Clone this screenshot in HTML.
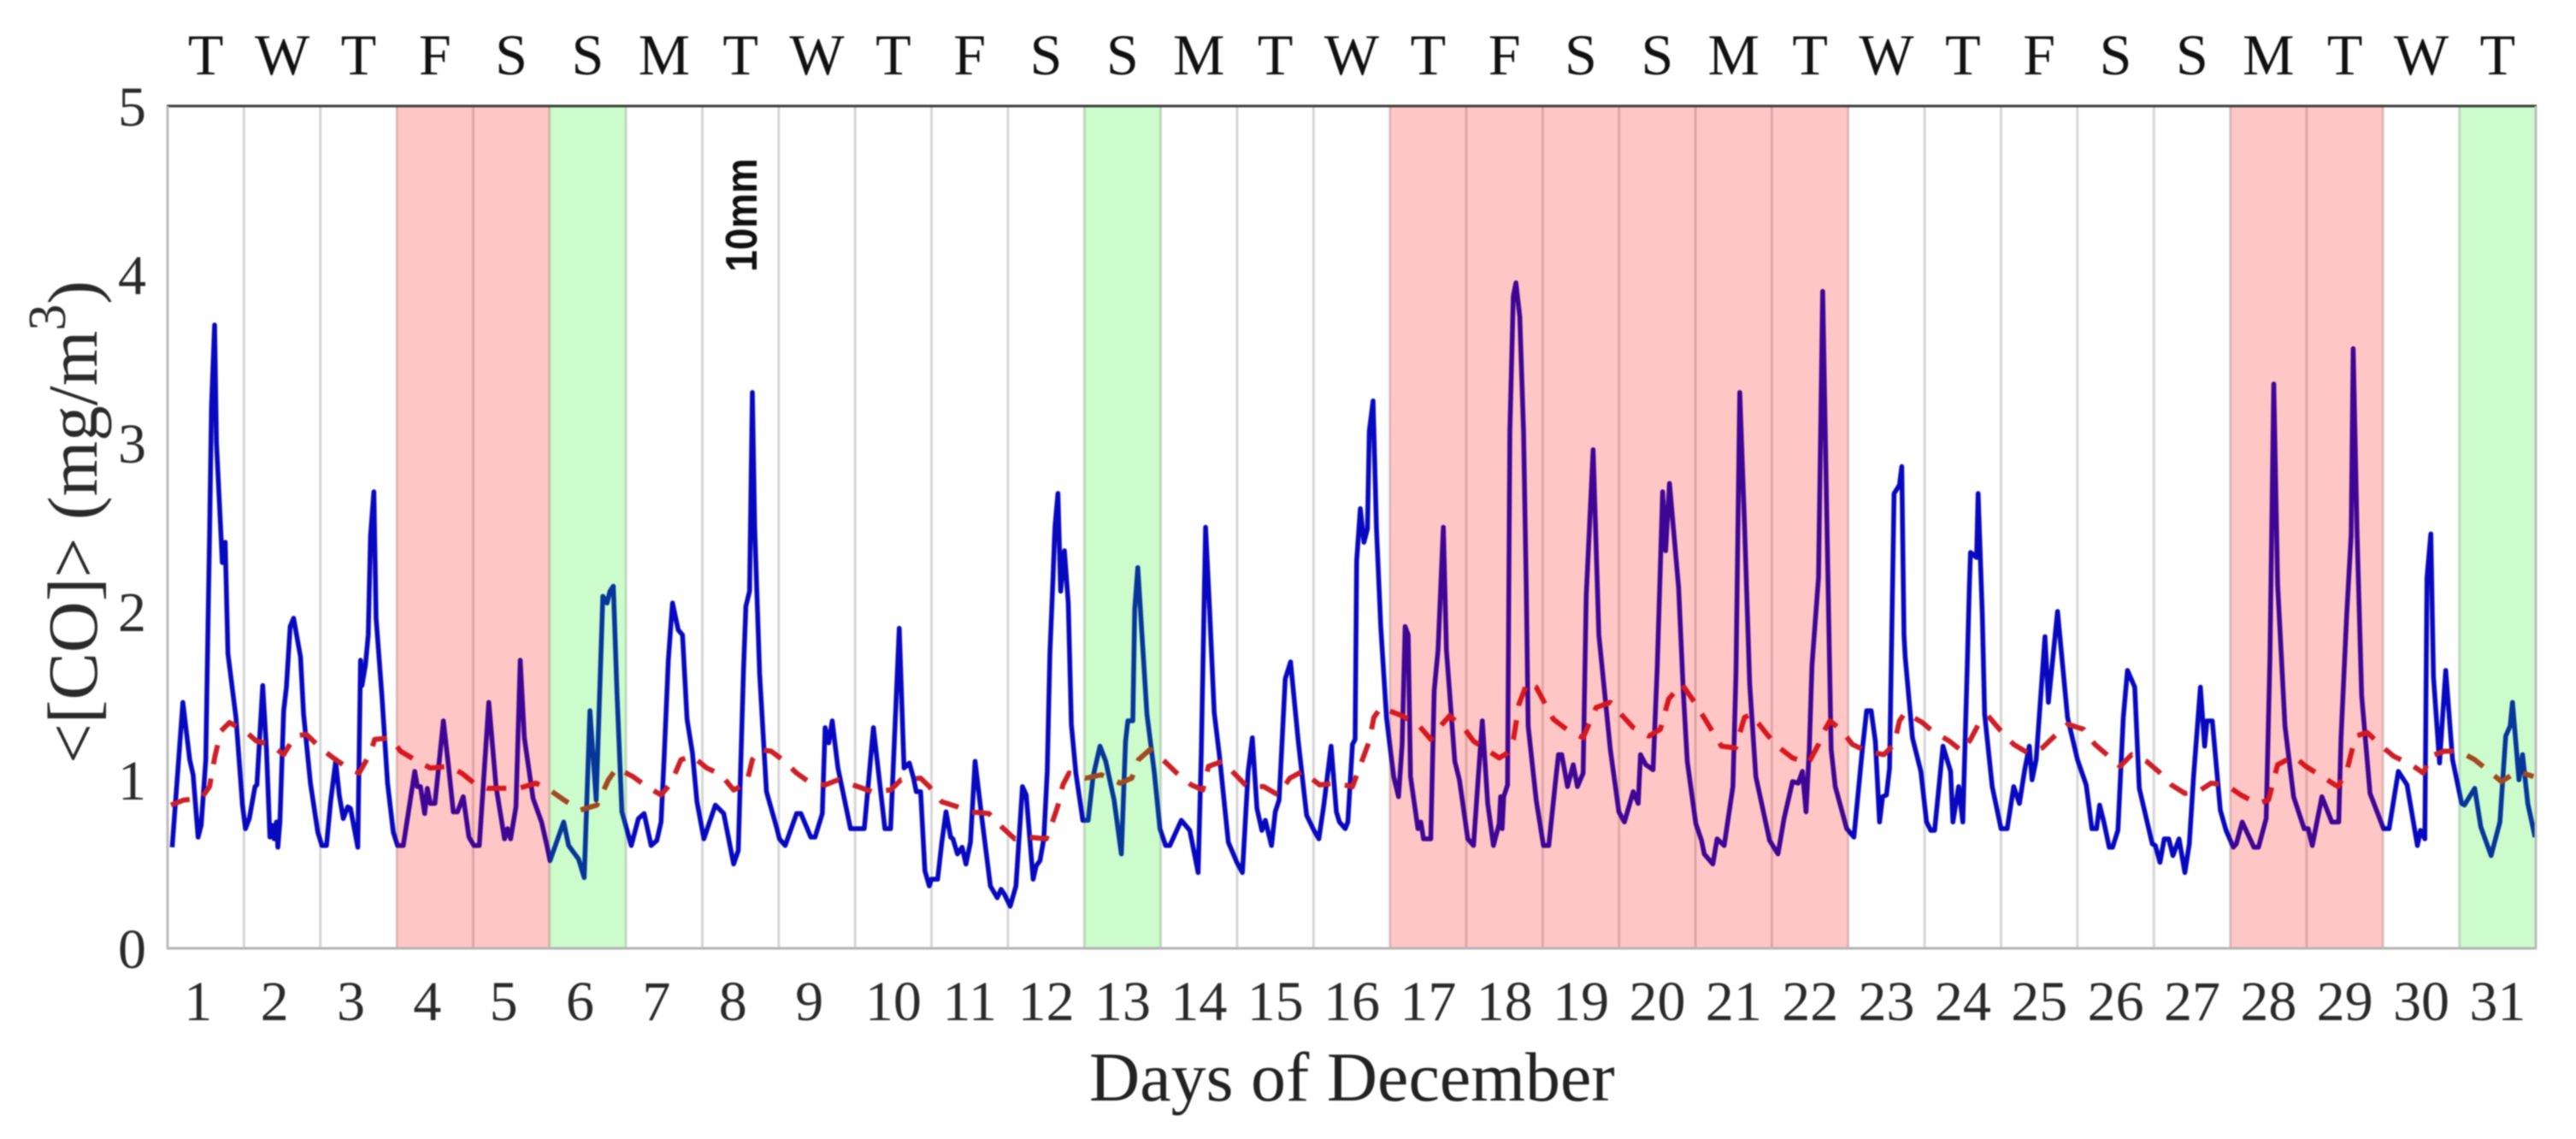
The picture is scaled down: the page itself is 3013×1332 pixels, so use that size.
<!DOCTYPE html>
<html lang="en">
<head>
<meta charset="utf-8">
<title>CO concentration, December</title>
<style>
html,body{margin:0;padding:0;background:#fff;}
svg{display:block;filter:blur(0.7px);}
text{font-family:"Liberation Serif",serif;}
</style>
</head>
<body>
<svg id="chart" xmlns="http://www.w3.org/2000/svg" width="3013" height="1332" viewBox="0 0 3013 1332">
  <rect x="0" y="0" width="3013" height="1332" fill="#ffffff"/>
  <g id="grid"></g>
  <g id="series"></g>
  <g id="bands"></g>
  <g id="axes"></g>
  <g id="weekdays"></g>
  <g id="xticks"></g>
  <g id="yticks"></g>
  <text x="1274" y="1287" font-size="82" fill="#222">Days of December</text>
  <text transform="translate(113,893) rotate(-90)" font-size="83" fill="#2a2a2a">&lt;[CO]&gt; (mg/m<tspan font-size="62" dy="-37">3</tspan><tspan dy="37">)</tspan></text>
  <text transform="translate(885,318) rotate(-90) scale(1,1.12)" font-size="46" font-weight="bold" fill="#111" style="font-family:'Liberation Sans',sans-serif">10mm</text>
</svg>
<script>
const weekdayLabels = ["T","W","T","F","S","S","M","T","W","T","F","S","S","M","T","W","T","F","S","S","M","T","W","T","F","S","S","M","T","W","T"];
const dayLabels = ["1","2","3","4","5","6","7","8","9","10","11","12","13","14","15","16","17","18","19","20","21","22","23","24","25","26","27","28","29","30","31"];
const yTickLabels = ["0","1","2","3","4","5"];
const yTickValues = [0,1,2,3,4,5];
const pinkBandDays = [4,5,17,18,19,20,21,22,28,29];
const greenBandDays = [6,13,31];

const coDays = [
0.06,0.09,0.2,0.29,0.335,0.4,0.44,0.5,0.52,0.55,0.575,0.616,0.64,0.7,0.716,0.754,0.79,0.895,0.98,
1.02,1.07,1.145,1.17,1.246,1.295,1.34,1.37,1.395,1.425,1.444,1.47,1.52,1.556,1.605,1.65,1.74,1.78,1.87,1.966,
2.02,2.08,2.134,2.2,2.247,2.3,2.358,2.395,2.49,2.526,2.545,2.59,2.627,2.657,2.7,2.73,2.806,2.88,2.955,
3.01,3.086,3.235,3.27,3.31,3.365,3.4,3.44,3.5,3.61,3.675,3.74,3.795,3.87,3.945,
4.01,4.08,4.205,4.3,4.41,4.45,4.49,4.56,4.616,4.67,4.784,4.895,4.97,
5.006,5.185,5.25,5.38,5.454,5.529,5.61,5.697,5.753,5.79,5.835,5.883,5.947,5.984,
6.07,6.163,6.238,6.33,6.405,6.46,6.5,6.555,6.61,6.685,6.74,6.8,6.87,6.93,
7.02,7.17,7.28,7.41,7.47,7.54,7.57,7.618,7.655,7.685,7.75,7.84,7.97,
8.01,8.085,8.234,8.29,8.42,8.475,8.57,8.607,8.655,8.7,8.775,8.94,
9.12,9.24,9.39,9.465,9.577,9.64,9.71,9.764,9.8,9.857,9.913,9.97,
10.0,10.08,10.135,10.19,10.25,10.28,10.34,10.4,10.45,10.51,10.57,10.66,10.77,10.86,10.91,10.955,
11.03,11.105,11.19,11.24,11.33,11.37,11.42,11.47,11.515,11.55,11.59,11.615,11.655,11.69,11.74,11.79,11.83,11.89,11.98,
12.05,12.115,12.205,12.28,12.39,12.485,12.54,12.57,12.635,12.66,12.7,12.765,12.82,12.915,12.99,
13.065,13.12,13.27,13.38,13.49,13.53,13.587,13.64,13.7,13.77,13.885,13.997,
14.07,14.145,14.2,14.26,14.325,14.37,14.45,14.5,14.55,14.63,14.7,14.8,14.91,
15.005,15.07,15.135,15.23,15.3,15.34,15.415,15.45,15.51,15.545,15.565,15.613,15.66,15.706,15.73,15.78,15.825,15.88,15.955,
16.05,16.113,16.16,16.2,16.24,16.27,16.367,16.405,16.44,16.535,16.58,16.63,16.7,16.74,16.85,16.91,
17.02,17.095,17.15,17.21,17.28,17.355,17.43,17.45,17.47,17.49,17.54,17.57,17.615,17.65,17.7,17.75,17.785,17.81,17.915,
18.01,18.08,18.175,18.207,18.25,18.325,18.4,18.455,18.53,18.57,18.66,18.735,18.885,18.997,
19.07,19.185,19.25,19.28,19.35,19.445,19.5,19.57,19.61,19.66,19.78,19.84,19.893,
20.005,20.08,20.115,20.227,20.283,20.376,20.49,20.53,20.58,20.64,20.71,20.79,20.97,
21.08,21.16,21.27,21.345,21.4,21.447,21.49,21.525,21.61,21.665,21.72,21.776,21.83,21.98,
22.074,22.185,22.24,22.3,22.355,22.41,22.45,22.5,22.54,22.6,22.67,22.7,22.73,22.745,22.84,22.95,
23.025,23.08,23.13,23.24,23.34,23.37,23.445,23.5,23.556,23.585,23.6,23.68,23.7,23.755,23.785,23.885,
24.0,24.08,24.165,24.24,24.31,24.37,24.406,24.46,24.575,24.62,24.74,24.87,
25.0,25.115,25.19,25.25,25.29,25.346,25.415,25.46,25.53,25.6,25.655,25.75,25.81,25.98,
26.02,26.08,26.136,26.194,26.25,26.33,26.406,26.464,26.52,26.61,26.665,26.695,26.765,26.87,26.945,
27.04,27.08,27.157,27.31,27.37,27.47,27.52,27.57,27.62,27.716,27.83,27.967,
28.02,28.075,28.2,28.33,28.42,28.45,28.525,28.583,28.61,28.66,28.72,28.83,
29.007,29.08,29.2,29.315,29.45,29.49,29.547,29.575,29.626,29.66,29.74,29.82,29.91,
30.03,30.065,30.2,30.28,30.415,30.53,30.606,30.664,30.695,30.78,30.826,30.895,30.99
];
const coValues = [
0.6,0.78,1.46,1.12,1.03,0.66,0.73,1.12,1.68,2.45,3.22,3.7,3.0,2.45,2.29,2.41,1.75,1.37,0.85,
0.71,0.77,0.96,0.97,1.56,1.18,0.66,0.73,0.65,0.75,0.6,0.75,1.41,1.55,1.91,1.96,1.73,1.39,0.98,0.69,
0.61,0.61,0.87,1.11,0.91,0.77,0.84,0.83,0.6,1.71,1.56,1.68,1.86,2.45,2.71,1.96,1.5,0.98,0.69,
0.61,0.61,1.05,0.96,0.96,0.8,0.95,0.86,0.86,1.35,1.09,0.81,0.81,0.9,0.66,
0.61,0.61,1.46,0.96,0.65,0.71,0.65,0.84,1.71,1.25,0.89,0.75,0.6,
0.52,0.75,0.61,0.53,0.42,1.41,0.88,2.09,2.05,2.12,2.15,1.51,0.81,0.75,
0.61,0.77,0.8,0.61,0.64,0.75,1.13,1.71,2.05,1.89,1.86,1.36,1.16,0.87,
0.65,0.85,0.8,0.5,0.58,1.66,2.03,2.12,3.3,2.5,1.63,0.93,0.72,
0.65,0.61,0.8,0.8,0.66,0.66,0.8,1.31,1.22,1.35,1.07,0.71,
0.71,1.31,0.71,0.71,1.9,1.07,1.1,1.01,0.93,0.93,0.46,0.37,
0.41,0.41,0.63,0.81,0.66,0.65,0.56,0.6,0.5,0.63,1.11,0.77,0.37,0.3,0.35,0.32,
0.25,0.37,0.96,0.91,0.41,0.49,0.52,0.65,1.05,1.75,2.19,2.5,2.7,2.12,2.36,2.05,1.33,1.04,0.76,
0.76,1.02,1.2,1.11,0.88,0.56,1.23,1.35,1.35,2.01,2.26,1.79,1.39,1.05,0.71,
0.61,0.61,0.76,0.7,0.45,1.14,2.5,2.01,1.4,1.14,0.63,0.51,
0.45,1.05,1.25,0.83,0.7,0.76,0.61,0.81,0.88,1.6,1.7,1.23,0.79,
0.7,0.65,0.85,1.2,0.81,0.75,0.71,0.75,1.21,1.24,2.3,2.61,2.41,2.49,3.07,3.25,2.49,1.91,1.37,
1.02,0.9,1.21,1.91,1.86,1.02,0.71,0.75,0.65,0.65,1.53,1.77,2.5,1.77,1.11,1.0,
0.65,0.61,0.97,1.35,0.86,0.61,0.74,0.9,0.71,0.9,0.97,3.07,3.87,3.95,3.75,3.07,2.14,1.32,0.88,
0.61,0.61,1.02,1.15,1.15,0.96,1.09,0.96,1.04,2.09,2.96,1.86,1.18,0.81,
0.75,0.93,0.86,1.15,1.09,1.06,1.67,2.71,2.36,2.76,2.14,1.53,1.11,
0.74,0.64,0.56,0.5,0.65,0.61,0.96,1.64,3.3,2.54,1.57,1.02,0.64,
0.56,0.77,0.99,0.98,1.05,0.81,1.18,1.68,2.2,3.9,2.54,1.18,0.96,0.71,
0.66,1.18,1.41,1.41,1.23,0.75,0.9,0.91,1.07,2.7,2.75,2.86,1.86,1.73,1.25,1.05,
0.75,0.7,0.7,1.2,1.05,0.75,0.96,0.75,1.64,2.14,2.35,2.32,2.7,1.98,1.39,0.96,
0.71,0.71,0.96,0.86,1.06,1.2,1.0,1.12,1.85,1.46,2.0,1.37,
1.12,0.97,0.71,0.71,0.85,0.75,0.6,0.6,0.7,1.37,1.65,1.55,0.95,0.62,
0.61,0.51,0.65,0.65,0.55,0.65,0.45,0.62,1.02,1.55,1.2,1.35,1.35,0.82,0.7,
0.6,0.62,0.75,0.6,0.6,0.77,1.72,3.35,2.16,1.32,0.9,0.71,
0.71,0.61,0.9,0.75,0.75,1.24,1.98,2.45,3.56,2.47,1.5,0.92,
0.71,0.71,1.05,0.97,0.61,0.7,0.65,2.2,2.46,1.61,1.1,1.65,1.12,
0.86,0.85,0.95,0.72,0.55,0.75,1.26,1.32,1.46,1.0,1.15,0.86,0.66
];

const avgDays = [
0.045,0.21,0.44,0.55,0.62,0.7,0.81,1.015,1.164,1.35,1.52,1.668,1.817,2.0,2.17,2.36,2.507,2.657,2.71,2.918,
3.05,3.235,3.44,3.68,3.85,4.04,4.187,4.45,4.6,4.82,4.97,5.19,5.398,5.62,5.77,5.88,6.09,6.275,6.46,6.59,6.72,6.87,
7.06,7.245,7.41,7.58,7.655,7.75,7.9,8.05,8.234,8.42,8.607,8.775,9.036,9.22,9.465,9.6,9.857,9.97,
10.135,10.34,10.51,10.75,10.92,11.09,11.27,11.5,11.59,11.65,11.72,11.8,12.02,12.225,12.47,12.62,12.71,12.86,
13.05,13.21,13.4,13.55,13.625,13.81,13.98,14.13,14.35,14.54,14.69,14.855,15.08,15.285,15.51,15.73,15.79,15.88,
16.16,16.385,16.535,16.645,16.78,16.965,17.095,17.43,17.54,17.617,17.69,17.8,17.915,18.14,18.344,18.53,18.7,18.885,
19.185,19.39,19.54,19.65,19.82,20.005,20.34,20.525,20.64,20.73,20.955,21.1,21.27,21.48,21.61,21.645,21.76,21.9,
22.055,22.24,22.466,22.6,22.67,22.745,22.97,23.1,23.325,23.49,23.6,23.717,23.83,23.98,24.165,24.35,24.54,24.7,24.875,
25.08,25.23,25.385,25.558,25.71,25.905,26.06,26.23,26.406,26.58,26.75,26.945,27.14,27.35,27.5,27.62,27.83,27.99,
28.2,28.41,28.525,28.64,28.795,29.007,29.14,29.37,29.527,29.62,29.8,30.0,30.2,30.39,30.55,30.76,30.97
];
const avgValues = [
0.85,0.88,0.89,0.96,1.14,1.29,1.34,1.29,1.23,1.21,1.15,1.26,1.27,1.19,1.13,1.07,1.04,1.16,1.24,1.25,
1.17,1.12,1.07,1.08,1.04,0.97,0.95,0.95,0.95,0.98,0.95,0.88,0.82,0.85,1.0,1.07,1.02,0.96,0.91,0.98,1.12,1.14,
1.07,1.03,0.94,0.98,1.12,1.18,1.17,1.12,1.04,0.98,0.97,1.0,0.96,0.93,0.94,1.0,1.01,0.96,
0.87,0.84,0.81,0.8,0.72,0.65,0.66,0.65,0.76,0.84,0.97,1.04,1.01,1.03,0.98,1.01,1.12,1.18,
1.11,1.04,0.97,0.94,1.08,1.11,1.03,0.96,0.96,0.91,1.01,1.05,0.97,0.98,0.96,1.23,1.37,1.43,
1.38,1.32,1.24,1.31,1.38,1.31,1.23,1.13,1.16,1.24,1.45,1.58,1.55,1.36,1.29,1.25,1.43,1.46,
1.31,1.26,1.3,1.48,1.57,1.45,1.2,1.19,1.37,1.39,1.26,1.19,1.13,1.1,1.21,1.26,1.35,1.3,
1.21,1.17,1.15,1.21,1.35,1.4,1.34,1.29,1.23,1.17,1.24,1.34,1.38,1.3,1.21,1.16,1.19,1.26,1.33,
1.3,1.21,1.15,1.08,1.15,1.11,1.05,0.97,0.92,0.93,0.98,0.97,0.91,0.86,0.88,1.09,1.14,1.08,
1.02,0.96,1.05,1.26,1.28,1.19,1.14,1.09,1.04,1.14,1.17,1.17,1.12,1.05,0.99,1.05,1.02
];

const SVG_NS = "http://www.w3.org/2000/svg";
const plotLeft = 196, plotRight = 2966, plotTop = 124, plotBottom = 1109;
const dayCount = 31, yMax = 5;
function xScale(day){ return plotLeft + (day / dayCount) * (plotRight - plotLeft); }
function yScale(val){ return plotBottom - (val / yMax) * (plotBottom - plotTop); }
function make(tag, attrs){
  const el = document.createElementNS(SVG_NS, tag);
  for (const k in attrs) el.setAttribute(k, attrs[k]);
  return el;
}
function pathFrom(days, values){
  let d = "";
  for (let i = 0; i < days.length; i++){
    d += (i ? "L" : "M") + xScale(days[i]).toFixed(1) + " " + yScale(values[i]).toFixed(1);
  }
  return d;
}

const grid = document.getElementById("grid");
for (let i = 1; i < dayCount; i++){
  const line = make("line", {x1:xScale(i), x2:xScale(i), y1:plotTop, y2:plotBottom, stroke:"#d6d6d6", "stroke-width":3});
  
  
  grid.appendChild(line);
}

const series = document.getElementById("series");
const coLine = make("path", {d:pathFrom(coDays, coValues), fill:"none", stroke:"#0808c0", "stroke-width":5.6, "stroke-linejoin":"round", "stroke-linecap":"butt"});


series.appendChild(coLine);
const avgLine = make("path", {d:pathFrom(avgDays, avgValues), fill:"none", stroke:"#cc2028", "stroke-width":6, "stroke-dasharray":"23 17", "stroke-linejoin":"round"});


series.appendChild(avgLine);

const bands = document.getElementById("bands");
pinkBandDays.forEach(function(day){
  const r = make("rect", {x:xScale(day-1), y:plotTop+1, width:xScale(day)-xScale(day-1), height:plotBottom-plotTop-1, fill:"#ff0000", "fill-opacity":0.225});
  
  
  bands.appendChild(r);
});
greenBandDays.forEach(function(day){
  const r = make("rect", {x:xScale(day-1), y:plotTop+1, width:xScale(day)-xScale(day-1), height:plotBottom-plotTop-1, fill:"#00ee00", "fill-opacity":0.2});
  
  
  bands.appendChild(r);
});

const axes = document.getElementById("axes");
const axisTop = make("line", {x1:plotLeft-1, x2:plotRight+1, y1:plotTop, y2:plotTop, stroke:"#3c3c3c", "stroke-width":3});


axes.appendChild(axisTop);
const axisBottom = make("line", {x1:plotLeft-1, x2:plotRight+1, y1:plotBottom, y2:plotBottom, stroke:"#b4b4b4", "stroke-width":3});


axes.appendChild(axisBottom);
const axisLeft = make("line", {x1:plotLeft, x2:plotLeft, y1:plotTop, y2:plotBottom, stroke:"#bcbcbc", "stroke-width":3});


axes.appendChild(axisLeft);
const axisRight = make("line", {x1:plotRight, x2:plotRight, y1:plotTop, y2:plotBottom, stroke:"#bcbcbc", "stroke-width":3});


axes.appendChild(axisRight);

const weekdays = document.getElementById("weekdays");
weekdayLabels.forEach(function(label, i){
  const t = make("text", {x:xScale(i+0.5), y:87, "font-size":68, "text-anchor":"middle", fill:"#111"});
  t.textContent = label;
  
  
  weekdays.appendChild(t);
});

const xticks = document.getElementById("xticks");
dayLabels.forEach(function(label, i){
  const shift = label.length > 1 ? 9 : 0;
  const t = make("text", {x:xScale(i+0.4)+shift, y:1193, "font-size":66, "text-anchor":"middle", fill:"#2a2a2a"});
  t.textContent = label;
  
  
  xticks.appendChild(t);
});

const yticks = document.getElementById("yticks");
yTickLabels.forEach(function(label, i){
  const t = make("text", {x:171, y:yScale(yTickValues[i])+23, "font-size":66, "text-anchor":"end", fill:"#2a2a2a"});
  t.textContent = label;
  
  
  yticks.appendChild(t);
});
</script>
</body>
</html>
